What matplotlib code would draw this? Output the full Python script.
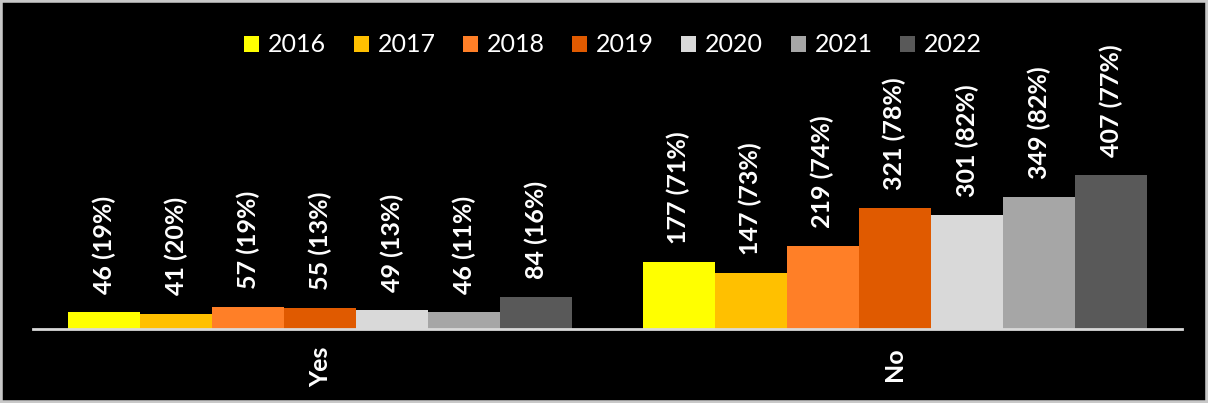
import matplotlib.pyplot as plt
from matplotlib.patches import Rectangle
import numpy as np

categories = ["Yes", "No"]
years = ["2016", "2017", "2018", "2019", "2020", "2021", "2022"]
counts = {
    "2016": [46, 177],
    "2017": [41, 147],
    "2018": [57, 219],
    "2019": [55, 321],
    "2020": [49, 301],
    "2021": [46, 349],
    "2022": [84, 407],
}
percents = {
    "2016": [19, 71],
    "2017": [20, 73],
    "2018": [19, 74],
    "2019": [13, 78],
    "2020": [13, 82],
    "2021": [11, 82],
    "2022": [16, 77],
}
colors = ["#FFFF00", "#FFC000", "#FF7F27", "#E05A00", "#D9D9D9", "#A6A6A6", "#595959"]

plt.rcParams['font.family'] = ['Lato', 'DejaVu Sans']

W, H = 1208, 403
fig = plt.figure(figsize=(W / 100, H / 100), dpi=100, facecolor="black")
# light gray frame round the chart
fig.patches.append(Rectangle((0, 0), 1, 1, transform=fig.transFigure,
                             facecolor="black", edgecolor="#C8C8C8", linewidth=4, zorder=-1))

ax = fig.add_axes([33 / W, (H - 329) / H, (1182 - 33) / W, (329 - 10) / H])
ax.set_facecolor("black")

x = np.arange(len(categories))
group = 0.878
bw = group / len(years)
for i, yr in enumerate(years):
    pos = x - group / 2 + bw * (i + 0.5)
    ax.bar(pos, counts[yr], width=bw, color=colors[i], label=yr, zorder=2)
    for p, c, pc in zip(pos, counts[yr], percents[yr]):
        ax.annotate(f"{c} ({pc}%)", (p, c), xytext=(0, 13), textcoords="offset points",
                    rotation=90, ha="center", va="bottom", color="white",
                    fontsize=18, fontweight="bold")

ax.set_xlim(-0.5, 1.5)
ax.set_ylim(0, 844)
ax.set_yticks([])
ax.set_xticks(x)
ax.set_xticklabels(categories, rotation=90, color="white", fontsize=18, fontweight="bold")
ax.tick_params(axis="x", length=0, pad=13)
for s in ["top", "left", "right"]:
    ax.spines[s].set_visible(False)
ax.spines["bottom"].set_color("#D9D9D9")
ax.spines["bottom"].set_linewidth(2)

handles = [Rectangle((0, 0), 1, 1, facecolor=c) for c in colors]
fig.legend(handles, years, loc="center", bbox_to_anchor=(613 / W, (H - 45) / H),
           ncol=7, frameon=False, fontsize=18, labelcolor="white",
           handlelength=0.6, handleheight=0.6, handletextpad=0.35, columnspacing=1.1)

plt.savefig("out.png", dpi=100, facecolor="black")
